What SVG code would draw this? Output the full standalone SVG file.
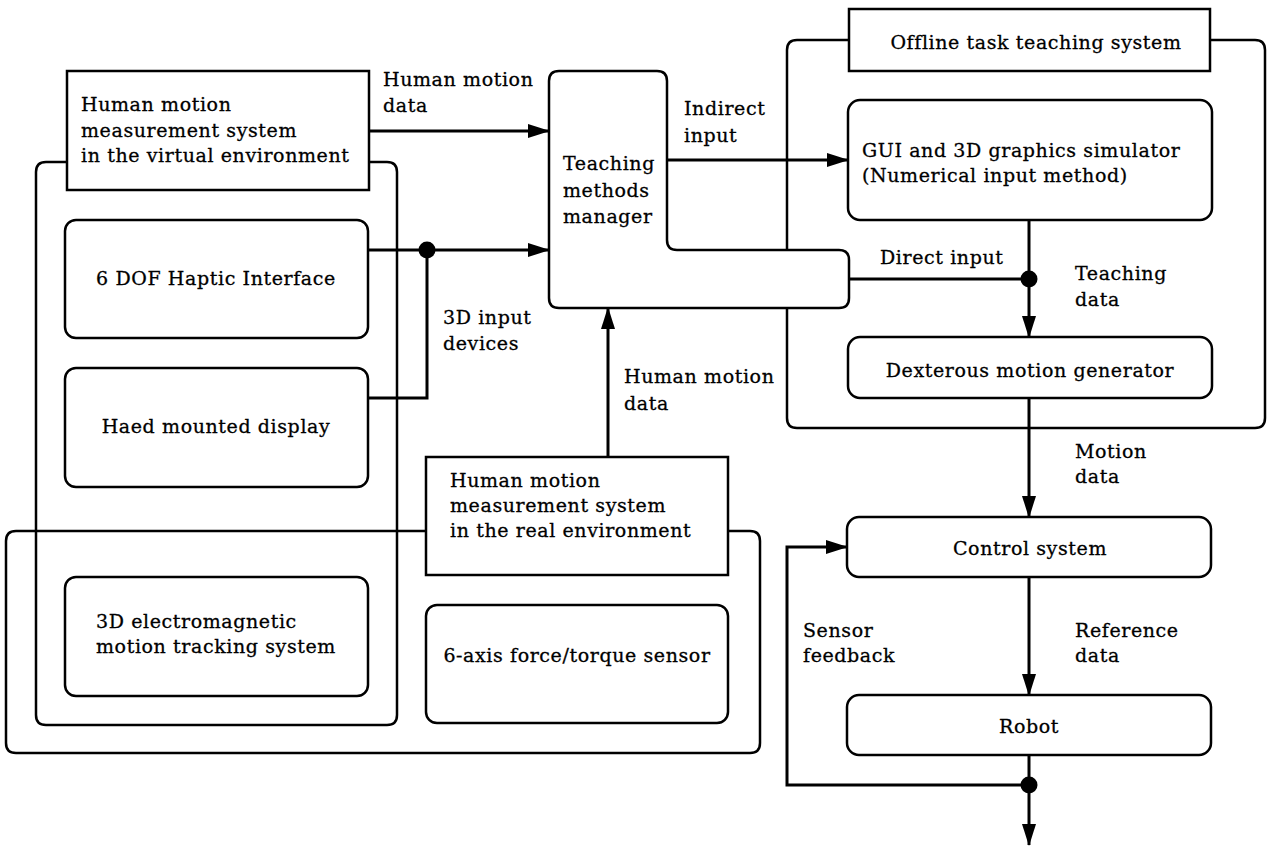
<svg xmlns="http://www.w3.org/2000/svg" width="1267" height="847" viewBox="0 0 1267 847">
<style>
  .bx{fill:#fff;stroke:#000;stroke-width:2.5}
  .grp{fill:none;stroke:#000;stroke-width:2.5}
  .ln{fill:none;stroke:#000;stroke-width:3}
  .t{font-family:"DejaVu Serif","Liberation Serif",serif;font-size:19px;letter-spacing:0.6px;fill:#000;stroke:#000;stroke-width:0.3}
  .c{text-anchor:middle}
</style>
<defs>
  <marker id="ah" markerUnits="userSpaceOnUse" markerWidth="22" markerHeight="14" refX="21" refY="7" orient="auto">
    <path d="M0,0 L22,7 L0,14 z" fill="#000"/>
  </marker>
</defs>
<rect width="1267" height="847" fill="#fff"/>

<g id="groups">
  <path class="grp" d="M67,162 H46 Q36,162 36,172 V715 Q36,725 46,725 H387 Q397,725 397,715 V172 Q397,162 387,162 H369"/>
  <path class="grp" d="M426,531 H16 Q6,531 6,541 V743 Q6,753 16,753 H750 Q760,753 760,743 V541 Q760,531 750,531 H728"/>
  <path class="grp" d="M849,40 H797 Q787,40 787,50 V418 Q787,428 797,428 H1255 Q1265,428 1265,418 V50 Q1265,40 1255,40 H1210"/>
</g>

<g id="connectors">
  <line class="ln" x1="369" y1="131" x2="549" y2="131" marker-end="url(#ah)"/>
  <line class="ln" x1="368" y1="250" x2="549" y2="250" marker-end="url(#ah)"/>
  <polyline class="ln" points="368,398 427,398 427,250"/>
  <circle cx="427" cy="250" r="8.5" fill="#000"/>
  <line class="ln" x1="608" y1="457" x2="608" y2="308" marker-end="url(#ah)"/>
  <line class="ln" x1="667" y1="160" x2="848" y2="160" marker-end="url(#ah)"/>
  <line class="ln" x1="849" y1="279" x2="1029" y2="279"/>
  <circle cx="1029" cy="279" r="8.5" fill="#000"/>
  <line class="ln" x1="1029" y1="220" x2="1029" y2="337" marker-end="url(#ah)"/>
  <line class="ln" x1="1029" y1="398" x2="1029" y2="517" marker-end="url(#ah)"/>
  <line class="ln" x1="1029" y1="577" x2="1029" y2="695" marker-end="url(#ah)"/>
  <line class="ln" x1="1029" y1="755" x2="1029" y2="845" marker-end="url(#ah)"/>
  <polyline class="ln" points="1029,785 787,785 787,547 847,547" marker-end="url(#ah)"/>
  <circle cx="1029" cy="785" r="8.5" fill="#000"/>
</g>

<g id="virtual-system">
  <rect class="bx" x="67" y="71" width="302" height="119"/>
  <text class="t" x="81" y="111">Human motion</text>
  <text class="t" x="81" y="137">measurement system</text>
  <text class="t" x="81" y="162">in the virtual environment</text>
</g>
<g id="haptic">
  <rect class="bx" x="65" y="220" width="303" height="118" rx="11"/>
  <text class="t c" x="216" y="285">6 DOF Haptic Interface</text>
</g>
<g id="hmd">
  <rect class="bx" x="65" y="368" width="303" height="119" rx="11"/>
  <text class="t c" x="216" y="433">Haed mounted display</text>
</g>
<g id="em-tracker">
  <rect class="bx" x="65" y="577" width="303" height="119" rx="11"/>
  <text class="t" x="96" y="628">3D electromagnetic</text>
  <text class="t" x="96" y="653">motion tracking system</text>
</g>
<g id="real-system">
  <rect class="bx" x="426" y="457" width="302" height="118"/>
  <text class="t" x="450" y="487">Human motion</text>
  <text class="t" x="450" y="512">measurement system</text>
  <text class="t" x="450" y="537">in the real environment</text>
</g>
<g id="force-sensor">
  <rect class="bx" x="426" y="605" width="302" height="118" rx="11"/>
  <text class="t c" x="577" y="662">6-axis force/torque sensor</text>
</g>
<g id="teaching-manager">
  <path class="bx" d="M549,81 Q549,71 559,71 H657 Q667,71 667,81 V240 Q667,250 677,250 H839 Q849,250 849,260 V298 Q849,308 839,308 H559 Q549,308 549,298 Z"/>
  <text class="t" x="563" y="170">Teaching</text>
  <text class="t" x="563" y="197">methods</text>
  <text class="t" x="563" y="223">manager</text>
</g>
<g id="offline-system">
  <rect class="bx" x="849" y="9" width="361" height="62"/>
  <text class="t c" x="1036" y="49">Offline task teaching system</text>
</g>
<g id="gui-simulator">
  <rect class="bx" x="848" y="100" width="364" height="120" rx="12"/>
  <text class="t" x="862" y="157">GUI and 3D graphics simulator</text>
  <text class="t" x="862" y="182">(Numerical input method)</text>
</g>
<g id="dexterous">
  <rect class="bx" x="848" y="337" width="364" height="61" rx="12"/>
  <text class="t c" x="1030" y="377">Dexterous motion generator</text>
</g>
<g id="control">
  <rect class="bx" x="847" y="517" width="364" height="60" rx="12"/>
  <text class="t c" x="1030" y="555">Control system</text>
</g>
<g id="robot">
  <rect class="bx" x="847" y="695" width="364" height="60" rx="12"/>
  <text class="t c" x="1029" y="733">Robot</text>
</g>

<g id="labels">
  <text class="t" x="383" y="86">Human motion</text>
  <text class="t" x="383" y="112">data</text>
  <text class="t" x="684" y="115">Indirect</text>
  <text class="t" x="684" y="142">input</text>
  <text class="t" x="443" y="324">3D input</text>
  <text class="t" x="443" y="350">devices</text>
  <text class="t" x="624" y="383">Human motion</text>
  <text class="t" x="624" y="410">data</text>
  <text class="t" x="880" y="264">Direct input</text>
  <text class="t" x="1075" y="280">Teaching</text>
  <text class="t" x="1075" y="306">data</text>
  <text class="t" x="1075" y="458">Motion</text>
  <text class="t" x="1075" y="483">data</text>
  <text class="t" x="803" y="637">Sensor</text>
  <text class="t" x="803" y="662">feedback</text>
  <text class="t" x="1075" y="637">Reference</text>
  <text class="t" x="1075" y="662">data</text>
</g>
</svg>
